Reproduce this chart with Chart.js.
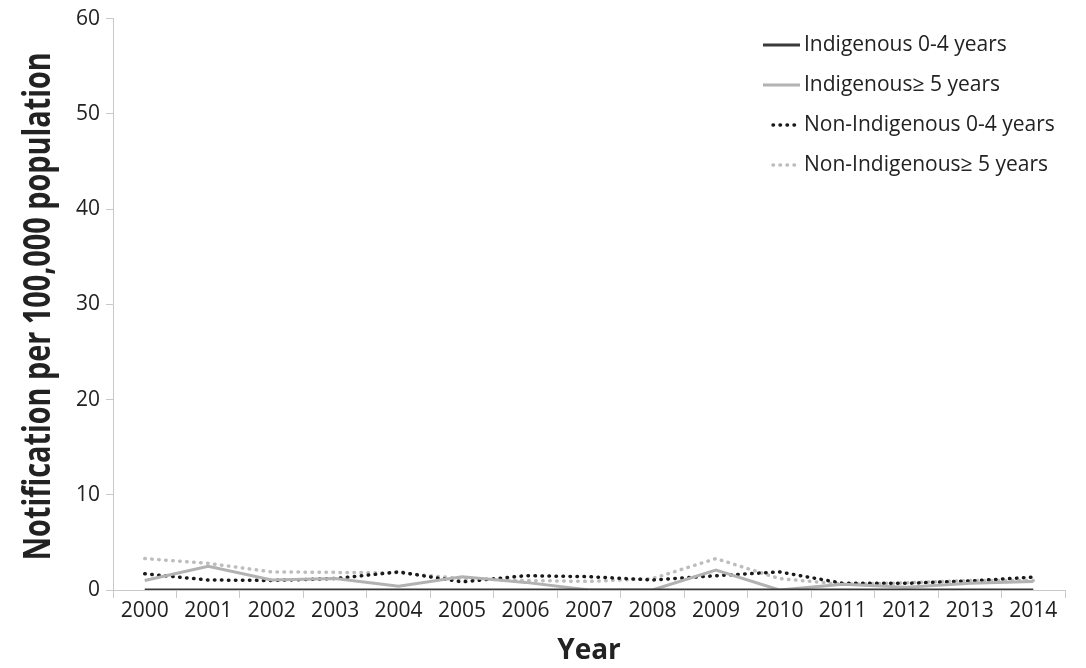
<!DOCTYPE html>
<html>
<head>
<meta charset="utf-8">
<script src="https://cdn.jsdelivr.net/npm/chart.js@4.4.1/dist/chart.umd.min.js"></script>
<style>
  html, body { margin: 0; padding: 0; background: #fff; }
  #wrap { width: 1086px; height: 668px; }
</style>
</head>
<body>
<div id="wrap"><canvas id="c" width="1086" height="668"></canvas></div>
<script>
const years = ['2000','2001','2002','2003','2004','2005','2006','2007','2008','2009','2010','2011','2012','2013','2014'];

const indigenous0to4 =     [0, 0, 0, 0, 0, 0, 0, 0, 0, 0, 0, 0, 0, 0, 0];
const indigenous5plus =    [1.0, 2.5, 1.05, 1.2, 0.4, 1.4, 0.8, 0, 0, 2.1, 0, 0.6, 0.3, 0.7, 0.9];
const nonIndigenous0to4 =  [1.7, 1.05, 1.0, 1.2, 1.9, 0.85, 1.5, 1.4, 1.05, 1.5, 1.9, 0.7, 0.7, 0.95, 1.35];
const nonIndigenous5plus = [3.3, 2.8, 1.9, 1.85, 1.8, 1.2, 1.0, 0.9, 1.2, 3.3, 1.2, 0.6, 0.75, 1.0, 1.0];

const yTicks = [0, 10, 20, 30, 40, 50, 60];
const yAxisTitle = 'Notification per 100,000 population';

const FONT = "'Open Sans', 'Liberation Sans', sans-serif";

// Legend drawn inside the plot area, top right
const insideLegend = {
  id: 'insideLegend',
  afterDraw(chart) {
    const ctx = chart.ctx;
    const xEnd = 800, gap = 4;
    let y = 45;
    ctx.save();
    ctx.font = "21px " + FONT;
    ctx.textBaseline = 'middle';
    chart.data.datasets.forEach(ds => {
      const dashed = !!(ds.borderDash && ds.borderDash.length);
      const len = dashed ? 27 : 37;
      ctx.beginPath();
      ctx.strokeStyle = ds.borderColor;
      ctx.lineWidth = ds.borderWidth;
      ctx.lineCap = ds.borderCapStyle || 'butt';
      ctx.setLineDash(ds.borderDash || []);
      ctx.moveTo(xEnd - len, y);
      ctx.lineTo(xEnd, y);
      ctx.stroke();
      ctx.setLineDash([]);
      ctx.fillStyle = '#222';
      ctx.fillText(ds.label, xEnd + gap, y);
      y += 40;
    });
    ctx.restore();
  }
};

// Condensed bold vertical title for the value axis
const verticalTitle = {
  id: 'verticalTitle',
  afterDraw(chart) {
    const ctx = chart.ctx;
    const area = chart.chartArea;
    ctx.save();
    ctx.translate(39, area.top + (area.bottom - area.top) / 2 + 2);
    ctx.rotate(-Math.PI / 2);
    ctx.font = "bold 38px " + FONT;
    const w = ctx.measureText(yAxisTitle).width;
    ctx.scale(508 / w, 1);
    ctx.fillStyle = '#222';
    ctx.textAlign = 'center';
    ctx.textBaseline = 'middle';
    ctx.fillText(yAxisTitle, 0, 0);
    ctx.restore();
  }
};

new Chart(document.getElementById('c'), {
  type: 'line',
  data: {
    labels: years,
    datasets: [
      { label: 'Indigenous 0-4 years', data: indigenous0to4,
        borderColor: '#3a3a3a', borderWidth: 3, pointRadius: 0, tension: 0 },
      { label: 'Indigenous\u2265 5 years', data: indigenous5plus,
        borderColor: '#b2b2b2', borderWidth: 3, pointRadius: 0, tension: 0 },
      { label: 'Non-Indigenous 0-4 years', data: nonIndigenous0to4,
        borderColor: '#1a1a1a', borderWidth: 3.5, borderDash: [0.5, 6.5], borderCapStyle: 'round', pointRadius: 0, tension: 0 },
      { label: 'Non-Indigenous\u2265 5 years', data: nonIndigenous5plus,
        borderColor: '#bdbdbd', borderWidth: 3.5, borderDash: [0.5, 6.5], borderCapStyle: 'round', pointRadius: 0, tension: 0 }
    ]
  },
  options: {
    responsive: false,
    animation: false,
    layout: { padding: { left: 0, right: 21, top: 18, bottom: 0 } },
    plugins: {
      legend: { display: false },
      tooltip: { enabled: false }
    },
    scales: {
      x: {
        offset: true,
        afterFit(axis) { axis.height = 78; },
        grid: { offset: true, drawOnChartArea: false, tickLength: 8, color: '#c8c8c8' },
        border: { color: '#c8c8c8', width: 1 },
        ticks: { color: '#222', font: { family: FONT, size: 21 }, maxRotation: 0, autoSkip: false, padding: 0 },
        title: { display: true, text: 'Year', color: '#222', font: { family: FONT, size: 28, weight: 'bold' }, padding: { top: 0, bottom: 0 } }
      },
      y: {
        min: 0, max: 60,
        afterBuildTicks(axis) { axis.ticks = yTicks.map(v => ({ value: v })); },
        afterFit(axis) { axis.width = 113; },
        grid: { drawOnChartArea: false, tickLength: 7, color: '#c8c8c8' },
        border: { color: '#c8c8c8', width: 1 },
        ticks: { color: '#222', font: { family: FONT, size: 21 }, padding: 6 },
        title: { display: false }
      }
    }
  },
  plugins: [insideLegend, verticalTitle]
});
</script>
</body>
</html>
